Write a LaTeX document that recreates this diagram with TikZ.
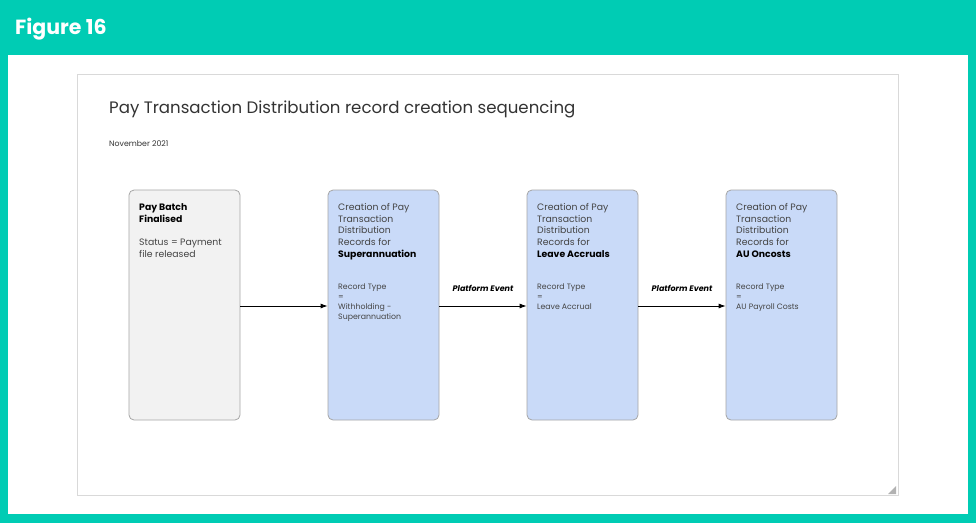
\documentclass[tikz,border=0pt]{standalone}
\usepackage{fontspec}
\setmainfont{Poppins}
\usetikzlibrary{arrows.meta}
\definecolor{teal}{HTML}{00CCB4}
\definecolor{boxblue}{HTML}{C9DAF8}
\definecolor{boxgray}{HTML}{F2F2F2}
\definecolor{boxline}{HTML}{A6A6A6}
\definecolor{txt}{HTML}{333333}
\definecolor{txtb}{HTML}{444444}
\tikzset{
  stepbox/.style={draw=boxline, line width=0.8pt, rounded corners=5pt},
  ln/.style={anchor=base west, inner sep=0pt, text=txtb, font=\fontsize{9.3}{11}\selectfont},
  lnb/.style={ln, text=black, font=\fontsize{9.3}{11}\selectfont\bfseries},
  lns/.style={anchor=base west, inner sep=0pt, text=txtb, font=\fontsize{7.8}{9}\selectfont},
  evlabel/.style={anchor=base, inner sep=0pt, text=black, font=\fontsize{8}{9}\selectfont\itshape\bfseries},
  conn/.style={draw=black, line width=0.8pt, -{Latex[length=7pt,width=5pt]}}
}
\begin{document}
\begin{tikzpicture}[x=1pt,y=-1pt]
\useasboundingbox (0,0) rectangle (976,523);
% frame
\fill[teal] (0,0) rectangle (976,523);
\fill[white] (8,55) rectangle (968,514);
\node[anchor=base west, inner sep=0pt, text=white, font=\fontsize{20.5}{23}\selectfont\bfseries] (fig) at (15,34) {Figure 16};
% panel
\draw[draw=black!15, line width=0.8pt] (77,74) rectangle (898,495);
\fill[black!30] (896,486) -- (896,494) -- (888,494) -- cycle;
\node[anchor=base west, inner sep=0pt, text=txt, font=\fontsize{16.6}{20}\selectfont] (title) at (109,113) {Pay Transaction Distribution record creation sequencing};
\node[anchor=base west, inner sep=0pt, text=txt, font=\fontsize{7.8}{9}\selectfont] (date) at (109,146) {November 2021};
% boxes
\node[stepbox, fill=boxgray, minimum width=111pt, minimum height=230pt, inner sep=0pt] (box1) at (184.5,305) {};
\node[stepbox, fill=boxblue, minimum width=111pt, minimum height=230pt, inner sep=0pt] (box2) at (383.5,305) {};
\node[stepbox, fill=boxblue, minimum width=111pt, minimum height=230pt, inner sep=0pt] (box3) at (582.5,305) {};
\node[stepbox, fill=boxblue, minimum width=111pt, minimum height=230pt, inner sep=0pt] (box4) at (781.5,305) {};
% box 1
\node[lnb] (a1) at (139,210) {Pay Batch};
\node[lnb] (a2) at (139,222) {Finalised};
\node[ln] (a3) at (139,245) {Status = Payment};
\node[ln] (a4) at (139,257) {file released};
% box 2,3,4
\foreach \x/\n/\bold in {338/tb/Superannuation, 537/tc/Leave Accruals, 736/td/AU Oncosts}{
  \node[ln] (\n1) at (\x,210) {Creation of Pay};
  \node[ln] (\n2) at (\x,222) {Transaction};
  \node[ln] (\n3) at (\x,233.5) {Distribution};
  \node[ln] (\n4) at (\x,245) {Records for};
  \node[lnb] (\n5) at (\x,257) {\bold};
  \node[lns] (\n6) at (\x,289) {Record Type};
  \node[lns] (\n7) at (\x,299) {=};
}
\node[lns] (tb8) at (338,309) {Withholding -};
\node[lns] (tb9) at (338,319) {Superannuation};
\node[lns] (tc8) at (537,309) {Leave Accrual};
\node[lns] (td8) at (736,309) {AU Payroll Costs};
% connectors
\draw[conn] (box1.east |- 0,306) -- (box2.west |- 0,306);
\draw[conn] (box2.east |- 0,306) -- (box3.west |- 0,306);
\draw[conn] (box3.east |- 0,306) -- (box4.west |- 0,306);
\node[evlabel] (e1) at (483,291) {Platform Event};
\node[evlabel] (e2) at (682,291) {Platform Event};
\end{tikzpicture}
\end{document}
